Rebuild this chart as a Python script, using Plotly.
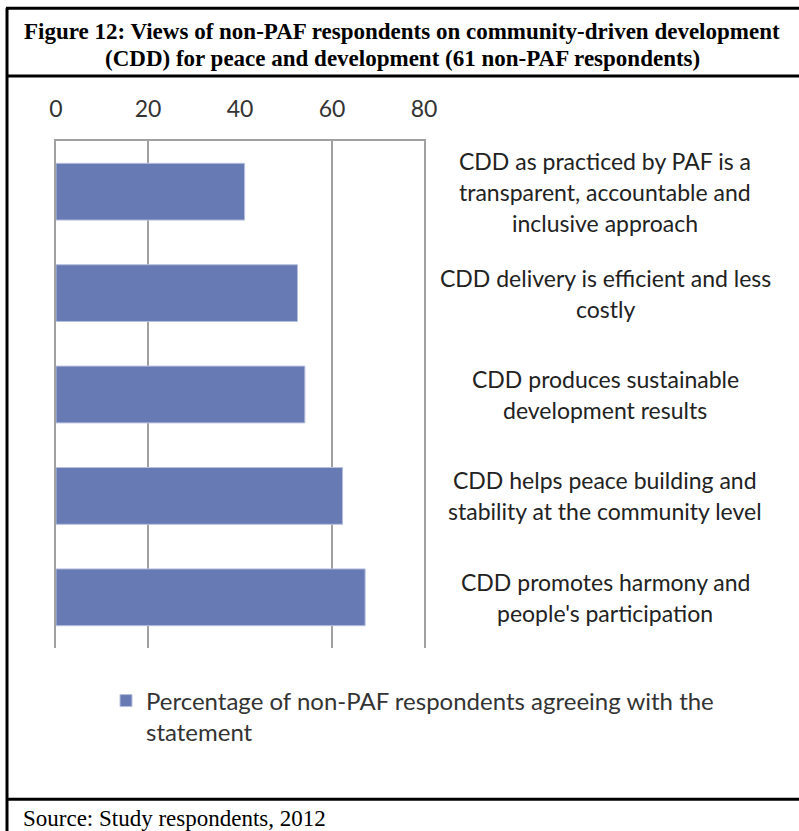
import plotly.graph_objects as go

# ---- data ----
statements = [
    "CDD as practiced by PAF is a\ntransparent, accountable and\ninclusive approach",
    "CDD delivery is efficient and less\ncostly",
    "CDD produces sustainable\ndevelopment results",
    "CDD helps peace building and\nstability at the community level",
    "CDD promotes harmony and\npeople's participation",
]
percent_agree = [41.0, 52.5, 54.1, 62.3, 67.2]
series_name = "Percentage of non-PAF respondents agreeing with the<br>statement"
tick_values = [0, 20, 40, 60, 80]
grid_values = [20, 60]
title_lines = [
    "Figure 12: Views of non-PAF respondents on community-driven development",
    "(CDD) for peace and development (61 non-PAF respondents)",
]
source_text = "Source: Study respondents, 2012"

# ---- layout geometry (pixels) ----
W, H = 799, 831
L, R, T, B = 56, 424, 141, 648.5
def xp(px):
    return (px - L) / (R - L)
def yp(py):
    return (B - py) / (B - T)

SANS = "Lato, Open Sans, sans-serif"
SERIF = "Liberation Serif, Times New Roman, serif"
GRID = "#a0a0a0"
cats = [f"s{i}" for i in range(len(statements))]

fig = go.Figure()
fig.add_trace(go.Bar(
    x=percent_agree, y=cats, orientation="h", name=series_name,
    marker=dict(color="#677ab4", line=dict(color="#b7c0de", width=1)),
    xaxis="x2", showlegend=True, hoverinfo="x",
))
# invisible helper so the labelled top axis is rendered
fig.add_trace(go.Scatter(
    x=percent_agree, y=cats, mode="markers", marker=dict(opacity=0),
    xaxis="x", showlegend=False, hoverinfo="skip",
))

shapes = []
blk = dict(color="black", width=3)
shapes.append(dict(type="line", xref="paper", yref="paper", x0=xp(7), x1=xp(7), y0=yp(8), y1=yp(845), line=blk))
shapes.append(dict(type="line", xref="paper", yref="paper", x0=xp(6), x1=xp(805), y0=yp(8), y1=yp(8), line=blk))
shapes.append(dict(type="line", xref="paper", yref="paper", x0=xp(6), x1=xp(805), y0=yp(76), y1=yp(76), line=blk))
shapes.append(dict(type="line", xref="paper", yref="paper", x0=xp(6), x1=xp(805), y0=yp(800), y1=yp(800), line=blk))

annotations = []
for ln, py in zip(title_lines, [31, 58]):
    annotations.append(dict(xref="paper", yref="paper", x=xp(402), y=yp(py), text=f"<b>{ln}</b>",
                            showarrow=False, xanchor="center", yanchor="middle",
                            font=dict(family=SERIF, size=23, color="black")))
annotations.append(dict(xref="paper", yref="paper", x=xp(21), y=yp(819), text=source_text,
                        showarrow=False, xanchor="left", yanchor="middle",
                        font=dict(family=SERIF, size=23, color="black")))
line_gap = 31
for cat, stmt in zip(cats, statements):
    lines = stmt.split("\n")
    n = len(lines)
    for i, ln in enumerate(lines):
        annotations.append(dict(xref="paper", yref="y", x=xp(605), y=cat, text=ln,
                                showarrow=False, xanchor="center", yanchor="middle",
                                yshift=-(i - (n - 1) / 2) * line_gap,
                                font=dict(family=SANS, size=23, color="#222222")))

fig.update_layout(
    width=W, height=H,
    margin=dict(l=L, r=W - R, t=T, b=H - B, pad=0),
    paper_bgcolor="white", plot_bgcolor="white",
    bargap=0.44,
    showlegend=True,
    legend=dict(x=xp(106), y=yp(679), xanchor="left", yanchor="top", valign="top",
                font=dict(family=SANS, size=24, color="#333333"),
                bgcolor="rgba(0,0,0,0)", itemwidth=30),
    xaxis=dict(range=[0, 80], side="top", tickvals=tick_values, showgrid=False,
               zeroline=False, showline=True, linecolor=GRID, linewidth=2,
               ticks="", ticklabelstandoff=13, anchor="y",
               tickfont=dict(family=SANS, size=23, color="#333333")),
    xaxis2=dict(range=[0, 80], overlaying="x", side="top", tickvals=grid_values,
                showgrid=True, gridcolor=GRID, gridwidth=2, zeroline=False,
                showticklabels=False, showline=False, ticks="", anchor="y"),
    yaxis=dict(categoryorder="array", categoryarray=cats, autorange="reversed",
               showticklabels=False, showgrid=False, zeroline=False,
               showline=True, mirror=True, linecolor=GRID, linewidth=2, ticks=""),
    shapes=shapes,
    annotations=annotations,
)

fig.write_html("out.html", config={"displayModeBar": False},
               post_script="document.body.style.margin='0';")
